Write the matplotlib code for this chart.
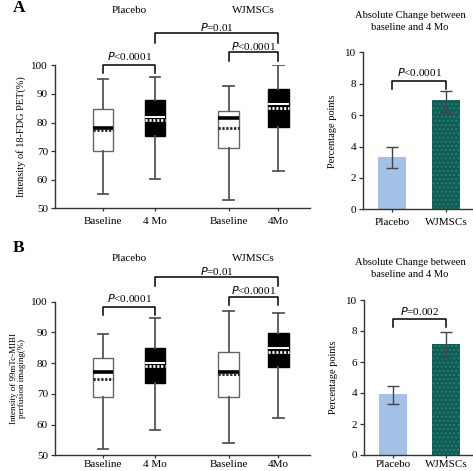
import matplotlib
matplotlib.use("Agg")
import matplotlib.pyplot as plt

plt.rcParams['font.family'] = ['Liberation Serif', 'DejaVu Serif']
plt.rcParams['hatch.linewidth'] = 1.0

# ================= DATA =================
box_labels = ["Baseline", "4 Mo", "Baseline", "4Mo"]
group_labels = ["Placebo", "WJMSCs"]

# panel A: 18-FDG PET
a_whislo = [54.9, 60.1, 52.8, 62.9]
a_q1 = [70.1, 75.4, 71.2, 78.3]
a_med = [78.2, 82.0, 81.5, 86.5]
a_mean = [77.4, 80.9, 78.0, 85.0]
a_q3 = [84.6, 87.9, 84.1, 91.7]
a_whishi = [95.2, 96.0, 92.9, 100.0]

# panel B: 99mTc-MIBI
b_whislo = [52.2, 58.1, 53.9, 62.0]
b_q1 = [69.0, 73.6, 69.1, 78.8]
b_med = [77.2, 80.1, 77.2, 85.0]
b_mean = [75.0, 79.1, 76.4, 83.5]
b_q3 = [81.6, 85.0, 83.7, 89.9]
b_whishi = [89.4, 94.6, 97.1, 96.2]

bar_labels = ["Placebo", "WJMSCs"]
a_change = [3.31, 6.96]
a_err_lo = [2.61, 6.22]
a_err_hi = [3.99, 7.55]
b_change = [3.92, 7.16]
b_err_lo = [3.27, 6.30]
b_err_hi = [4.47, 7.92]

# ================= LAYOUT =================
POS = [1.0, 2.0, 3.42, 4.37]
W, H = 473, 471
fig = plt.figure(figsize=(W / 100, H / 100), dpi=100)

FS = 8
GRAY = '#555555'


def style_axes(ax):
    for s in ['top', 'right']:
        ax.spines[s].set_visible(False)
    for s in ['left', 'bottom']:
        ax.spines[s].set_color('#333333')
        ax.spines[s].set_linewidth(1.0)
    ax.tick_params(length=3, width=0.9, color='#333333', labelsize=FS, pad=2)


def draw_boxes(ax, whislo, q1, med, mean, q3, whishi):
    stats = []
    for i in range(len(med)):
        stats.append(dict(whislo=whislo[i], q1=q1[i], med=med[i], mean=mean[i],
                          q3=q3[i], whishi=whishi[i], fliers=[]))
    art = ax.bxp(stats, positions=POS, widths=0.4, patch_artist=True,
                 showmeans=True, meanline=True, showfliers=False,
                 capwidths=0.21,
                 whiskerprops=dict(color=GRAY, lw=1.3),
                 capprops=dict(color=GRAY, lw=1.3))
    for i, box in enumerate(art['boxes']):
        if i % 2 == 0:
            box.set_facecolor('white')
            box.set_edgecolor('#666666')
            box.set_linewidth(1.0)
            art['medians'][i].set(color='black', lw=2.6)
            art['means'][i].set(color='#222222', lw=2.0, ls=(0, (0.8, 0.6)))
        else:
            box.set_facecolor('black')
            box.set_edgecolor('black')
            art['medians'][i].set(color='white', lw=1.4)
            art['means'][i].set(color='white', lw=2.0, ls=(0, (0.8, 0.6)))


def bracket(ax, x0, x1, y, leg, text, ty):
    ax.plot([x0, x0, x1, x1], [y - leg, y, y, y - leg], color='black',
            lw=1.1, clip_on=False)
    ax.text((x0 + x1) / 2, ty, text, ha='center', va='center', fontsize=FS)


def box_panel(rect, data, ylabel, ylabel_fs, brackets, group_y, letter,
              letter_y, xpad):
    ax = fig.add_axes(rect)
    draw_boxes(ax, *data)
    ax.set_xlim(0.077, 4.98)
    ax.set_ylim(50, 100)
    ax.set_yticks([50, 60, 70, 80, 90, 100])
    ax.set_xticks(POS)
    ax.set_xticklabels(box_labels)
    style_axes(ax)
    ax.tick_params(axis='x', pad=xpad, length=2.5)
    ax.set_ylabel(ylabel, fontsize=ylabel_fs, labelpad=4, linespacing=0.95)
    for (x0, x1, y, leg, ty) in brackets:
        bracket(ax, x0, x1, y, leg, ty[0], ty[1])
    ax.text((POS[0] + POS[1]) / 2, group_y, group_labels[0], ha='center',
            va='center', fontsize=FS)
    ax.text((POS[2] + POS[3]) / 2, group_y, group_labels[1], ha='center',
            va='center', fontsize=FS)
    fig.text(13 / W, 1 - letter_y / H, letter, fontsize=12.5, fontweight='bold',
             ha='left', va='center')
    return ax


def bar_panel(rect, vals, lo, hi, ptext, by, leg, ty, title_y, xpad):
    ax = fig.add_axes(rect)
    x = [0, 1]
    yerr = [[v - l for v, l in zip(vals, lo)], [h - v for v, h in zip(vals, hi)]]
    ax.bar(x[0], vals[0], width=0.52, color='#a3c1e6', lw=0)
    ax.bar(x[1], vals[1], width=0.52, color='#0d5e56', edgecolor='#2e7b71',
           hatch='....', lw=0)
    ax.errorbar(x, vals, yerr=yerr, fmt='none', ecolor='#444444', elinewidth=1,
                capsize=4.3, capthick=1)
    ax.set_xlim(-0.537, 1.48)
    ax.set_ylim(0, 10)
    ax.set_yticks([0, 2, 4, 6, 8, 10])
    ax.set_xticks(x)
    ax.set_xticklabels(bar_labels)
    style_axes(ax)
    ax.tick_params(axis='x', pad=xpad, length=2.5)
    ax.set_ylabel("Percentage points", fontsize=7.5, labelpad=6)
    ax.plot([0, 0, 1, 1], [by - leg, by, by, by - leg], color='black', lw=1.1)
    ax.text(0.5, ty, ptext, ha='center', va='center', fontsize=FS)
    fig.text(410 / W, 1 - title_y / H,
             "Absolute Change between\nbaseline and 4 Mo", fontsize=7.6,
             ha='center', va='center', linespacing=1.35)
    return ax


# ---------- panel A ----------
box_panel([55 / W, 1 - 208.3 / H, 255 / W, 143 / H],
          (a_whislo, a_q1, a_med, a_mean, a_q3, a_whishi),
          "Intensity of 18-FDG PET(%)", 7.5,
          [(POS[0], POS[1], 100.0, 2.6, ("$\\it{P}$<0.0001", 103.2)),
           (POS[2], POS[3], 104.6, 3.1, ("$\\it{P}$<0.0001", 106.9)),
           (POS[1], POS[3], 111.2, 3.3, ("$\\it{P}$=0.01", 113.3))],
          119.1, "A", 8, 4)

bar_panel([363 / W, 1 - 209.3 / H, 109 / W, 157 / H],
          a_change, a_err_lo, a_err_hi, "$\\it{P}$<0.0001", 8.2, 0.55, 8.72,
          21.5, 4)

# ---------- panel B ----------
box_panel([55 / W, 1 - 455.3 / H, 255 / W, 153.6 / H],
          (b_whislo, b_q1, b_med, b_mean, b_q3, b_whishi),
          "Intensity of 99mTc-MIBI\nperfusion imaging(%)", 6.5,
          [(POS[0], POS[1], 98.4, 2.7, ("$\\it{P}$<0.0001", 101.1)),
           (POS[2], POS[3], 101.6, 2.7, ("$\\it{P}$<0.0001", 103.9)),
           (POS[1], POS[3], 108.1, 2.9, ("$\\it{P}$=0.01", 110.0))],
          114.1, "B", 248, 1)

bar_panel([364 / W, 1 - 455 / H, 108 / W, 155 / H],
          b_change, b_err_lo, b_err_hi, "$\\it{P}$=0.002", 8.77, 0.51, 9.3,
          268.5, 1)

fig.savefig("out.png", dpi=100)
